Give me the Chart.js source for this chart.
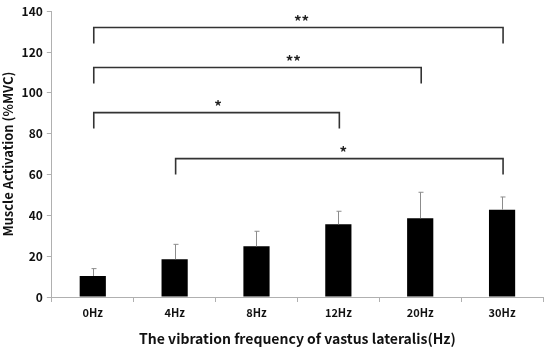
<!DOCTYPE html>
<html>
<head>
<meta charset="utf-8">
<script src="https://cdn.jsdelivr.net/npm/chart.js@4"></script>
<style>
  html, body { margin: 0; padding: 0; background: #fff; }
  #wrap { width: 550px; height: 354px; }
</style>
</head>
<body>
<div id="wrap"><canvas id="chart" width="550" height="354"></canvas></div>
<script>
const categories = ["0Hz", "4Hz", "8Hz", "12Hz", "20Hz", "30Hz"];
const meanValues = [10.3, 18.5, 24.8, 35.6, 38.6, 42.8];
const sdValues = [3.6, 7.3, 7.4, 6.4, 12.7, 6.2];
const yTicks = [0, 20, 40, 60, 80, 100, 120, 140];

// significance brackets (category indexes, height in %MVC)
const bracketFrom = [0, 0, 0, 1];
const bracketTo = [5, 4, 3, 5];
const bracketLevel = [132, 112.4, 90.3, 67.8];
const bracketLabel = ["**", "**", "*", "*"];
const bracketStarAt = [2.55, 2.45, 1.53, 3.06];
const bracketDrop = 7.8;

const font = "'Noto Sans CJK KR', 'Open Sans', sans-serif";

// error bars + brackets
const extras = {
  id: "extras",
  afterDatasetsDraw(chart) {
    const ctx = chart.ctx;
    const x = chart.scales.x;
    const y = chart.scales.y;
    ctx.save();

    ctx.strokeStyle = "#8c8c8c";
    ctx.lineWidth = 1;
    meanValues.forEach((v, i) => {
      const cx = Math.round(x.getPixelForValue(i)) + 0.5;
      const top = y.getPixelForValue(v + sdValues[i]);
      ctx.beginPath();
      ctx.moveTo(cx, y.getPixelForValue(v));
      ctx.lineTo(cx, top);
      ctx.moveTo(cx - 2, top);
      ctx.lineTo(cx + 3, top);
      ctx.stroke();
    });

    ctx.strokeStyle = "#333";
    ctx.lineWidth = 1.6;
    ctx.fillStyle = "#222";
    ctx.font = "bold 15px " + font;
    ctx.textAlign = "center";
    ctx.textBaseline = "middle";
    bracketLevel.forEach((lvl, i) => {
      const x1 = x.getPixelForValue(bracketFrom[i]) + 1;
      const x2 = x.getPixelForValue(bracketTo[i]) + 1;
      const yl = y.getPixelForValue(lvl);
      const yd = y.getPixelForValue(lvl - bracketDrop);
      ctx.beginPath();
      ctx.moveTo(x1, yd);
      ctx.lineTo(x1, yl);
      ctx.lineTo(x2, yl);
      ctx.lineTo(x2, yd);
      ctx.stroke();
      ctx.fillText(bracketLabel[i], x.getPixelForValue(bracketStarAt[i]), yl - 6);
    });
    ctx.restore();
  }
};

new Chart(document.getElementById("chart"), {
  type: "bar",
  data: {
    labels: categories,
    datasets: [{
      data: meanValues,
      backgroundColor: "#000",
      barPercentage: 0.32,
      categoryPercentage: 1
    }]
  },
  options: {
    responsive: false,
    animation: false,
    layout: { padding: { top: 1, right: 7, left: 0, bottom: 5 } },
    plugins: {
      legend: { display: false },
      tooltip: { enabled: false }
    },
    scales: {
      x: {
        grid: {
          display: true,
          drawOnChartArea: false,
          drawTicks: true,
          tickLength: 5,
          color: "#b0b0b0"
        },
        border: { color: "#b0b0b0" },
        ticks: {
          color: "#111",
          font: { family: font, size: 11, weight: "bold" },
          padding: 4
        },
        title: {
          display: true,
          text: "The vibration frequency of vastus lateralis(Hz)",
          color: "#111",
          font: { family: font, size: 14, weight: "bold" },
          padding: { top: 7, bottom: 2 }
        }
      },
      y: {
        min: 0,
        max: 140,
        afterBuildTicks(axis) {
          axis.ticks = yTicks.map(v => ({ value: v }));
        },
        grid: {
          display: true,
          drawOnChartArea: false,
          drawTicks: true,
          tickLength: 5,
          color: "#b0b0b0"
        },
        border: { color: "#b0b0b0" },
        ticks: {
          color: "#111",
          font: { family: font, size: 12, weight: "bold" },
          padding: 4
        },
        title: {
          display: true,
          text: "Muscle Activation (%MVC)",
          color: "#111",
          font: { family: font, size: 13, weight: "bold" },
          padding: { top: 0, bottom: 2 }
        }
      }
    }
  },
  plugins: [extras]
});
</script>
</body>
</html>
